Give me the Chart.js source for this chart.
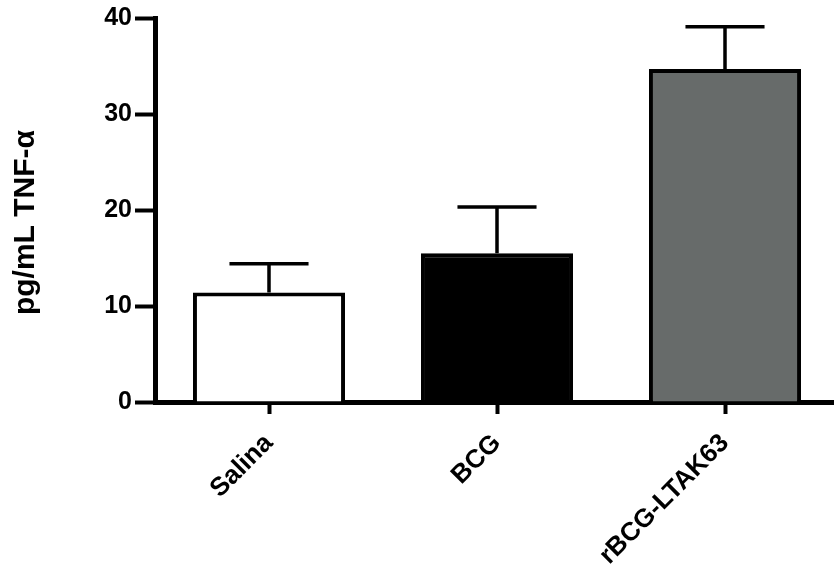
<!DOCTYPE html>
<html>
<head>
<meta charset="utf-8">
<script src="https://cdn.jsdelivr.net/npm/chart.js@4/dist/chart.umd.min.js"></script>
<style>
  html, body { margin: 0; padding: 0; background: #ffffff; overflow: hidden; }
  #wrap { width: 850px; height: 572px; }
</style>
</head>
<body>
<div id="wrap"><canvas id="c" width="850" height="572"></canvas></div>
<script>
// Groups, mean TNF-alpha (pg/mL) and upper error (SEM)
const groups = ['Salina', 'BCG', 'rBCG-LTAK63'];
const meanValues = [11.4, 15.5, 34.7];
const errorValues = [3.0, 4.8, 4.4];
const barColors = ['#ffffff', '#000000', '#676b6a'];
const yTicks = [0, 10, 20, 30, 40];

const FONT = '"Liberation Sans", Arial, Helvetica, sans-serif';

// Upper error bars with caps, drawn from the value scale
const errorBars = {
  id: 'errorBars',
  afterDatasetsDraw(chart) {
    const ctx = chart.ctx;
    const yScale = chart.scales.y;
    const meta = chart.getDatasetMeta(0);
    ctx.save();
    ctx.strokeStyle = '#000';
    ctx.lineWidth = 3.5;
    ctx.lineCap = 'butt';
    meta.data.forEach((bar, i) => {
      const yBase = yScale.getPixelForValue(meanValues[i]);
      const yTop = yScale.getPixelForValue(meanValues[i] + errorValues[i]);
      const half = bar.width * 0.26;
      ctx.beginPath();
      ctx.moveTo(bar.x, yBase);
      ctx.lineTo(bar.x, yTop);
      ctx.moveTo(bar.x - half, yTop);
      ctx.lineTo(bar.x + half, yTop);
      ctx.stroke();
    });
    ctx.restore();
  }
};

new Chart(document.getElementById('c'), {
  type: 'bar',
  data: {
    labels: groups,
    datasets: [{
      data: meanValues,
      backgroundColor: barColors,
      borderColor: '#000',
      borderWidth: 4,
      borderSkipped: 'bottom',
      barPercentage: 0.667,
      categoryPercentage: 1.0
    }]
  },
  options: {
    responsive: false,
    animation: false,
    devicePixelRatio: 1,
    layout: { padding: { top: 18, right: 11, left: 0, bottom: 0 } },
    plugins: {
      legend: { display: false },
      tooltip: { enabled: false }
    },
    scales: {
      x: {
        z: 1,
        offset: true,
        afterFit: s => { s.height = 170; },
        grid: {
          offset: false,
          drawOnChartArea: false,
          drawTicks: true,
          tickLength: 12,
          tickWidth: 4,
          tickColor: '#000'
        },
        border: { display: true, color: '#000', width: 5 },
        ticks: {
          color: '#000',
          font: { family: FONT, size: 26, weight: 'bold' },
          minRotation: 45,
          maxRotation: 45,
          padding: 14
        }
      },
      y: {
        z: 1,
        min: 0,
        max: 40,
        afterFit: s => { s.width = 155; },
        afterBuildTicks: s => { s.ticks = yTicks.map(v => ({ value: v })); },
        grid: {
          drawOnChartArea: false,
          drawTicks: true,
          tickLength: 20,
          tickWidth: 4,
          tickColor: '#000'
        },
        border: { display: true, color: '#000', width: 5 },
        ticks: {
          color: '#000',
          font: { family: FONT, size: 25, weight: 'bold' },
          padding: 3
        },
        title: {
          display: true,
          // trailing spaces nudge the rotated title toward the baseline end
          text: 'pg/mL TNF-α   ',
          color: '#000',
          font: { family: FONT, size: 30, weight: 'bold' },
          padding: { top: 8, bottom: 0 }
        }
      }
    }
  },
  plugins: [errorBars]
});
</script>
</body>
</html>
